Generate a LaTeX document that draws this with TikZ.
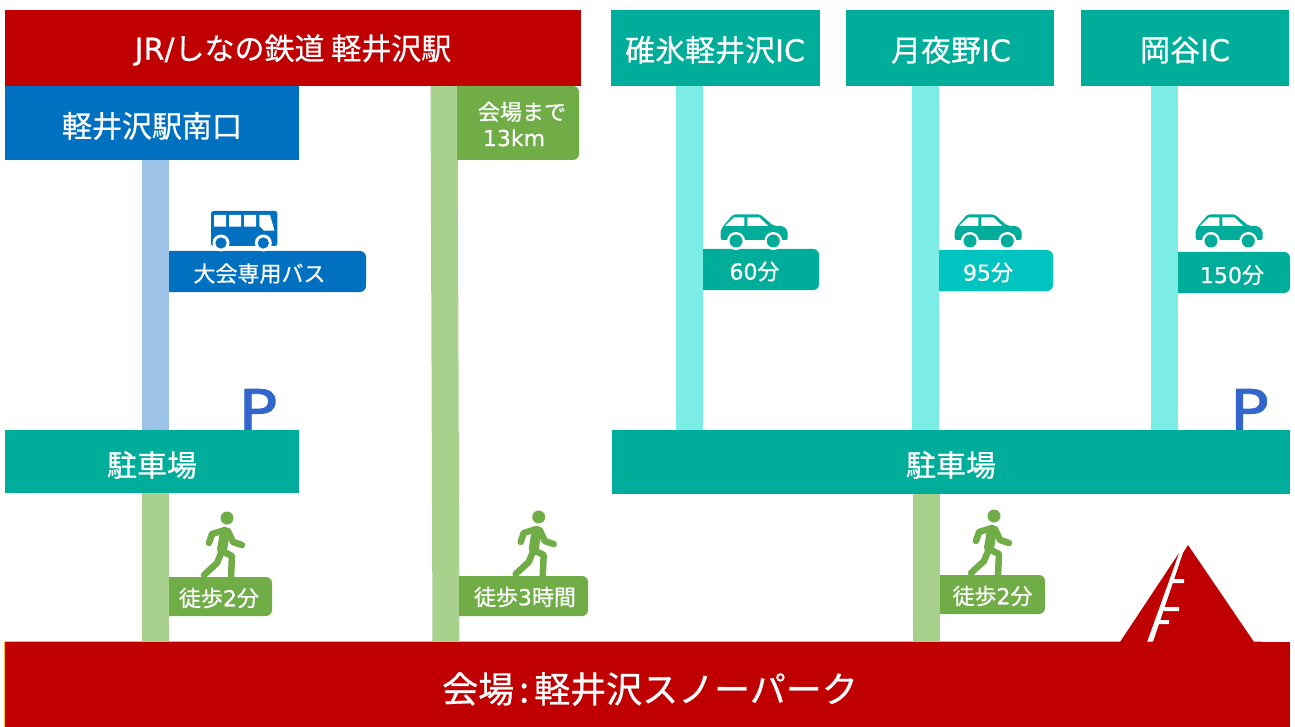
\documentclass[tikz,border=0pt]{standalone}
\usepackage{fontspec}
\setmainfont[FakeBold=0.6]{Noto Sans CJK JP}
\newfontfamily\lat[FakeBold=0.6]{DejaVu Sans}
\newfontfamily\platfont[FakeBold=1.6,FakeStretch=1.15]{DejaVu Sans}
\definecolor{cred}{HTML}{C00000}
\definecolor{cblue}{HTML}{0070C0}
\definecolor{cltblue}{HTML}{9DC3E6}
\definecolor{cteal}{HTML}{00AC9A}
\definecolor{ccyan}{HTML}{7BECE6}
\definecolor{ccyanb}{HTML}{00C4BF}
\definecolor{cgreen}{HTML}{70AD47}
\definecolor{cltgreen}{HTML}{A9D18E}
\definecolor{cpark}{HTML}{3366CC}
\definecolor{cgold}{HTML}{FFC000}
\tikzset{
  boxn/.style={inner sep=0pt,outer sep=0pt,text=white,font=\fontsize{30}{32}\selectfont,anchor=center},
  labn/.style={inner sep=0pt,outer sep=0pt,text=white,font=\fontsize{22}{24}\selectfont,align=center},
  barline/.style={line width=27pt,line cap=butt},
  pmark/.style={inner sep=0pt,text=cpark,font=\platfont\fontsize{56}{56}\selectfont,anchor=base},
  pics/bus/.style={code={
    \fill[cblue,rounded corners=2.5pt] (0,0) rectangle (66.3,35);
    \fill[white] (3,4) rectangle (15,15.7) (18,4) rectangle (30,15.7) (33,4) rectangle (45,15.7);
    \fill[white] (48.3,4) -- (59,4) -- (63.5,19.7) -- (53,19.7) -- (48.3,15) -- cycle;
    \fill[white] (10,32) circle[radius=8.5] (52.3,32) circle[radius=8.5];
    \fill[cblue] (10,32) circle[radius=5.6] (52.3,32) circle[radius=5.6];
  }},
  pics/car/.style={code={
    \fill[cteal,rounded corners=2pt] (-0.3,27) -- (-0.3,17) -- (3,12) -- (12.3,1.3) -- (39,1.3) -- (52.3,12.7) -- (62.3,13) -- (66.7,17.7) -- (66.7,27) -- cycle;
    \fill[white] (4,13) -- (13,4.3) -- (23.3,4.3) -- (23.3,13) -- cycle;
    \fill[white] (26.3,4.3) -- (38.3,4.3) -- (47.3,13) -- (26.3,13) -- cycle;
    \fill[white] (15,28) circle[radius=9] (52.3,28) circle[radius=9];
    \fill[cteal] (15,28) circle[radius=6.5] (52.3,28) circle[radius=6.5];
  }},
  pics/walker/.style={code={
    \fill[cgreen] (0,0) circle[radius=6.5];
    \draw[cgreen,line width=10pt,line cap=round,line join=round] (-2,14) -- (-5,32);
    \draw[cgreen,line width=6.5pt,line cap=round,line join=round]
      (-2,12) -- (-15,16) -- (-18,25)
      (1,13) -- (6,24) -- (15,27)
      (-5,33) -- (-10,45) -- (-23,57)
      (-5,33) -- (5,38) -- (4,59);
  }}
}
\newcommand{\lab}[9]{%
  \fill[#2] (#3,#4) [rounded corners=6pt] -- (#5,#4) -- (#5,#6) [sharp corners] -- (#3,#6) -- cycle;
  \node[labn] (#1) at (#7,#8) {#9};}
\begin{document}
\begin{tikzpicture}[x=1pt,y=-1pt]
\useasboundingbox (0,0) rectangle (1295,727);
% coordinates for connector ends
\coordinate (a1) at (155.5,160);  \coordinate (a2) at (155.5,431);
\coordinate (b1) at (155.5,492);  \coordinate (b2) at (155.5,643);
\coordinate (c1) at (444,85);     \coordinate (c2) at (446,643);
\coordinate (d1) at (689.5,85);   \coordinate (d2) at (689.5,431);
\coordinate (e1) at (925.5,85);   \coordinate (e2) at (925.5,431);
\coordinate (f1) at (1164.5,85);  \coordinate (f2) at (1164.5,431);
\coordinate (g1) at (926.5,493);  \coordinate (g2) at (926.5,643);
% P marks (behind the boxes)
\node[pmark] (p1) at (258,430) {P};
\node[pmark] (p2) at (1249.5,430) {P};
% connectors
\draw[barline,cltblue] (a1) -- (a2);
\draw[barline,cltgreen] (b1) -- (b2);
\draw[barline,cltgreen] (c1) -- (c2);
\draw[barline,ccyan] (d1) -- (d2);
\draw[barline,ccyan] (e1) -- (e2);
\draw[barline,ccyan] (f1) -- (f2);
\draw[barline,cltgreen] (g1) -- (g2);
% header boxes
\fill[cred] (5,10) rectangle (581,86);
\node[boxn] (station) at (293,50) {{\lat JR/}しなの鉄道 軽井沢駅};
\fill[cteal] (611,10) rectangle (820,86);
\node[boxn] (ic1) at (715,50) {碓氷軽井沢{\lat IC}};
\fill[cteal] (846,10) rectangle (1054,86);
\node[boxn] (ic2) at (951,50) {月夜野{\lat IC}};
\fill[cteal] (1081,10) rectangle (1289,86);
\node[boxn] (ic3) at (1185,50) {岡谷{\lat IC}};
\fill[cblue] (5,86) rectangle (299,160);
\node[boxn] (south) at (152,126) {軽井沢駅南口};
% parking
\fill[cteal] (5,430) rectangle (299,493);
\node[boxn] (park1) at (152,465) {駐車場};
\fill[cteal] (612,430) rectangle (1290,494);
\node[boxn] (park2) at (951,465) {駐車場};
% labels
\lab{bus}{cblue}{169}{251}{366}{292}{259.5}{273.5}{大会専用バス}
\lab{km}{cgreen}{457}{86}{579}{160}{520}{124}{\hspace*{4pt}会場まで\\[2pt]{\lat\hspace*{-12pt}13km}}
\lab{car1}{cteal}{703}{249}{819}{290}{754.5}{271.5}{{\lat 60}分}
\lab{car2}{ccyanb}{939}{250}{1053}{291}{988}{272.5}{{\lat 95}分}
\lab{car3}{cteal}{1178}{252}{1290}{293}{1232}{275}{{\lat 150}分}
\lab{walk1}{cgreen}{169}{577}{272}{616}{219}{598}{徒歩{\lat 2}分}
\lab{walk2}{cgreen}{459}{576}{588}{616}{525}{597}{徒歩{\lat 3}時間}
\lab{walk3}{cgreen}{940}{575}{1045}{614}{992.5}{596}{徒歩{\lat 2}分}
% icons
\pic at (211,211) {bus};
\pic at (721,213) {car};
\pic at (955,213) {car};
\pic at (1196,213) {car};
\pic at (227,518) {walker};
\pic at (538.7,517) {walker};
\pic at (994,516) {walker};
% venue
\draw[cgold,line width=1pt] (5,641.5) -- (1262,641.5);
\fill[cred] (1188,545) -- (1254,642) -- (1153,642) -- (1183,553) -- cycle;
\fill[cred] (1120,642) -- (1147,642) -- (1179,553) -- cycle;
\fill[cred] (5,642) rectangle (1290,727);
\draw[cgold,line width=1pt] (4.5,642) -- (4.5,727);
\node[boxn,font=\fontsize{36}{38}\selectfont] (venue) at (650,689) {会場\hspace{5pt}:\hspace{5pt}軽井沢スノーパーク};
% mountain mark
\fill[white] (1172,579) rectangle (1184,583) (1164,607) rectangle (1179,611) (1158,620) rectangle (1169,624);
\end{tikzpicture}
\end{document}
